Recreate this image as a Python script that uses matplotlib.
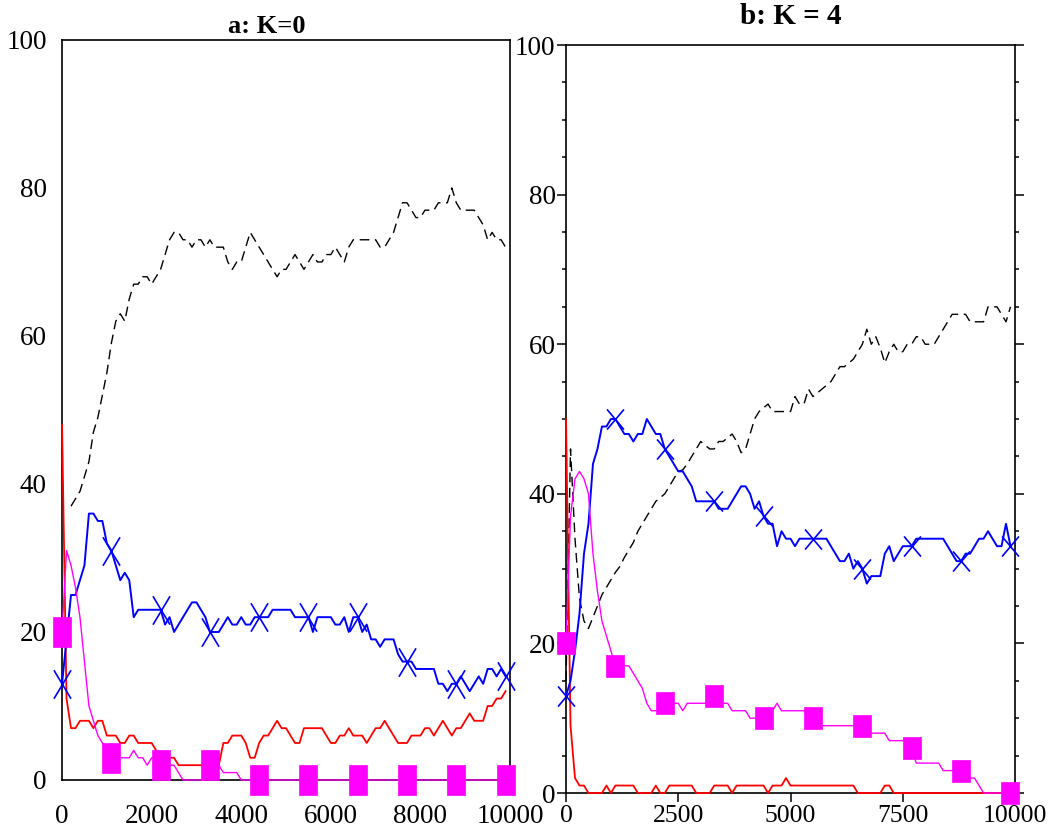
import numpy as np
import matplotlib.pyplot as plt
from matplotlib.path import Path
from matplotlib.ticker import MultipleLocator

plt.rcParams['font.family'] = ['Liberation Serif', 'DejaVu Serif']

# one sample every 100 generations
steps = np.arange(0, 10000, 100)
nan = np.nan

# ---- panel a: K = 0 ----
k0_black = [nan, nan, 37, 38, 39, 41, 43, 47, 49, 52,
            55, 59, 62, 63, 62, 65, 67, 67, 68, 68,
            67, 68, 69, 71, 73, 74, 74, 73, 73, 72,
            73, 73, 72, 73, 72, 72, 72, 70, 69, 70,
            70, 72, 74, 73, 72, 71, 70, 69, 68, 69,
            69, 70, 71, 70, 69, 70, 71, 70, 70, 71,
            71, 72, 71, 70, 72, 73, 73, 73, 73, 73,
            73, 72, 72, 73, 74, 76, 78, 78, 77, 76,
            76, 77, 77, 77, 78, 78, 78, 80, 78, 77,
            77, 77, 77, 76, 75, 73, 74, 73, 73, 72]
k0_blue = [13, 19, 25, 25, 27, 29, 36, 36, 35, 35,
           32, 31, 29, 27, 28, 27, 22, 23, 23, 23,
           23, 23, 23, 21, 22, 20, 21, 22, 23, 24,
           24, 23, 22, 20, 20, 20, 21, 22, 21, 21,
           22, 21, 21, 22, 22, 22, 22, 23, 23, 23,
           23, 23, 22, 22, 22, 22, 20, 22, 22, 22,
           22, 21, 21, 22, 20, 22, 22, 20, 21, 19,
           19, 18, 19, 19, 19, 17, 16, 16, 16, 15,
           15, 15, 15, 15, 13, 13, 12, 13, 13, 14,
           13, 12, 13, 14, 13, 15, 15, 14, 15, 14]
k0_magenta = [20, 31, 29, 26, 22, 16, 10, 8, 6, 5,
              4, 3, 3, 3, 3, 3, 4, 3, 3, 2,
              3, 3, 2, 2, 2, 2, 1, 0, 0, 0,
              0, 0, 0, 2, 1, 2, 1, 1, 1, 1] + [0] * 60
k0_red = [48, 11, 7, 7, 8, 8, 8, 7, 8, 8,
          6, 6, 6, 5, 5, 6, 6, 5, 5, 5,
          5, 4, 3, 3, 3, 3, 2, 2, 2, 2,
          2, 2, 2, 2, 2, 2, 5, 5, 6, 6,
          6, 5, 3, 3, 5, 6, 6, 7, 8, 7,
          7, 6, 5, 5, 7, 7, 7, 7, 7, 6,
          5, 5, 6, 6, 7, 6, 6, 6, 5, 6,
          7, 7, 8, 7, 6, 5, 5, 5, 6, 6,
          6, 7, 7, 6, 7, 8, 7, 6, 7, 7,
          8, 9, 8, 8, 8, 10, 10, 11, 11, 12]

# ---- panel b: K = 4 ----
k4_black = [15, 46, 34, 26, 23, 22, 23.5, 25, 26.5, 27.5,
            28.5, 29.5, 30.3, 31.5, 32.5, 33.5, 35, 36, 37, 38,
            39, 39.5, 40, 41, 42, 43, 43.2, 44, 45, 46,
            47, 46.5, 46, 46, 47, 47, 47.5, 48, 47, 45.5,
            46, 48, 50, 51, 51.5, 52, 51, 51, 51, 51,
            51, 53, 52, 52, 54, 53, 53.5, 54, 54.5, 55,
            56, 57, 57, 57.5, 58, 59, 60, 62, 60, 61,
            59.5, 57.5, 59, 60, 59, 59, 60, 60, 61, 61,
            60, 60, 60, 61, 62, 63, 64, 64, 64, 64,
            63, 63, 63, 63, 65, 65, 65, 64, 63, 65]
k4_blue = [13, 15, 19, 24, 32, 36, 44, 46, 49, 49,
           50, 50, 49, 48, 48, 47, 48, 48, 50, 49,
           48, 48, 46, 45, 44, 43, 43, 42, 41, 39,
           39, 39, 39, 39, 38, 38, 38, 39, 40, 41,
           41, 40, 38, 39, 37, 36, 36, 33, 35, 34,
           34, 33, 34, 34, 34, 34, 34, 34, 34, 33,
           32, 31, 31, 32, 30, 31, 30, 28, 29, 29,
           29, 32, 33, 31, 32, 33, 33, 33, 34, 34,
           34, 34, 34, 34, 34, 33, 32, 31, 31, 32,
           32, 33, 34, 34, 35, 34, 33, 33, 36, 33]
k4_magenta = [20, 37, 42, 43, 42, 40, 32, 27, 23, 21,
              19, 17, 17, 17, 17, 16, 15, 14, 12, 11,
              11, 11, 12, 12, 12, 12, 11, 12, 12, 12,
              12, 12, 12, 13, 13, 12, 12, 11, 11, 11,
              11, 10, 10, 10, 10, 10, 11, 12, 11, 11,
              11, 11, 11, 11, 10, 10, 9, 9, 9, 9,
              9, 9, 9, 9, 9, 9, 9, 8, 8, 8,
              8, 8, 7, 7, 7, 7, 7, 6, 4, 4,
              4, 4, 4, 4, 3, 3, 3, 3, 3, 3,
              2, 2, 1, 0, 0, 0, 0, 0, 0, 0]
k4_red = [50, 9, 2, 1, 1, 0, 0, 0, 0, 1,
          0, 1, 1, 1, 1, 1, 0, 0, 0, 0,
          1, 0, 0, 1, 1, 1, 1, 1, 1, 0,
          0, 0, 0, 1, 1, 1, 1, 0, 1, 1,
          1, 1, 1, 1, 1, 0, 1, 1, 1, 2,
          1, 1, 1, 1, 1, 1, 1, 1, 1, 1,
          1, 1, 1, 1, 1, 0, 0, 0, 0, 0,
          0, 1, 1, 0, 0, 0, 0, 0, 0, 0,
          0, 0, 0, 0, 0, 0, 0, 0, 0, 0,
          0, 0, 0, 0, 0, 0, 0, 0, 0, 0]


def cross(w):
    return Path([(-w, -0.5), (w, 0.5), (-w, 0.5), (w, -0.5)],
                [Path.MOVETO, Path.LINETO, Path.MOVETO, Path.LINETO])


def box(w):
    return Path([(-w, -0.5), (w, -0.5), (w, 0.5), (-w, 0.5), (-w, -0.5)],
                [Path.MOVETO, Path.LINETO, Path.LINETO, Path.LINETO, Path.CLOSEPOLY])


def draw(ax, black, red, blue, magenta, xmark, xsize, bmark, bsize):
    ax.plot(steps, black, color='black', lw=1.0, linestyle=(0, (7, 4)),
            clip_on=False, zorder=3)
    ax.plot(steps, red, color='#ff0000', lw=1.3, clip_on=False, zorder=3)
    ax.plot(steps, blue, color='#0000ff', lw=1.4, marker=xmark, markersize=xsize,
            markevery=11, mfc='none', mec='#0000ff', mew=1.2,
            clip_on=False, zorder=3)
    ax.plot(steps, magenta, color='#ff00ff', lw=1.0, marker=bmark, markersize=bsize,
            markevery=11, mfc='#ff00ff', mec='#ff00ff', mew=0.5,
            clip_on=False, zorder=4)
    ax.set_xlim(0, 10000)
    ax.set_ylim(0, 100)
    for s in ax.spines.values():
        s.set_linewidth(1.2)


fig = plt.figure(figsize=(10.48, 8.31), dpi=100)

ax1 = fig.add_axes([0.0592, 0.0614, 0.4275, 0.8905])
draw(ax1, k0_black, k0_red, k0_blue, k0_magenta, cross(0.3), 20.5, box(0.29), 22)
ax1.set_xticks(range(0, 10001, 2000))
ax1.set_yticks(range(0, 101, 20))
ax1.tick_params(axis='both', length=0, labelsize=19.5)
ax1.tick_params(axis='x', pad=17)
ax1.tick_params(axis='y', pad=11)
ax1.set_title('a: K=0', fontsize=19, fontweight='bold', pad=5, x=0.456)

ax2 = fig.add_axes([0.5401, 0.0457, 0.4284, 0.9001])
draw(ax2, k4_black, k4_red, k4_blue, k4_magenta, cross(0.42), 14.5, box(0.39), 16.5)
ax2.set_xticks(range(0, 10001, 2500))
ax2.set_yticks(range(0, 101, 20))
ax2.yaxis.set_minor_locator(MultipleLocator(5))
ax2.tick_params(axis='both', which='major', direction='out', length=6.5,
                width=1.1, labelsize=19.5)
ax2.tick_params(axis='x', labelsize=18.5)
ax2.tick_params(axis='y', which='minor', direction='out', length=3, width=1.1)
ax2.tick_params(axis='y', which='both', left=True, right=True)
ax2.tick_params(axis='x', pad=2)
ax2.tick_params(axis='y', pad=1)
ax2.set_title('b: K = 4', fontsize=21, fontweight='bold', pad=15)

fig.savefig('out.png', dpi=100)
